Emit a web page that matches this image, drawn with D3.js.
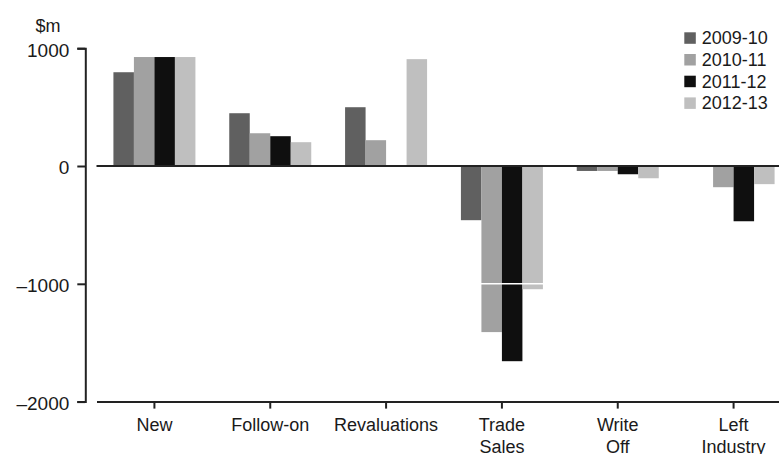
<!DOCTYPE html>
<html>
<head>
<meta charset="utf-8">
<script src="https://cdn.jsdelivr.net/npm/d3@7"></script>
<style>
  html, body { margin: 0; padding: 0; background: #fff; }
  svg { display: block; font-family: "Liberation Sans", Arial, sans-serif; }
</style>
</head>
<body>
<svg id="chart" width="779" height="454"></svg>
<script>
// ---- data ----
const categories = ["New", "Follow-on", "Revaluations", "Trade Sales", "Write Off", "Left Industry"];
const seriesNames = ["2009-10", "2010-11", "2011-12", "2012-13"];
const values2009_10 = [796, 448, 499, -460, -42, 0];
const values2010_11 = [925, 278, 219, -1410, -42, -180];
const values2011_12 = [925, 253, 0, -1657, -70, -469];
const values2012_13 = [925, 202, 907, -1046, -104, -154];
const yTickValues = [-2000, -1000, 0, 1000];
const unitLabel = "$m";

const seriesValues = [values2009_10, values2010_11, values2011_12, values2012_13];
const colors = ["#606060", "#a1a1a1", "#0f0f0f", "#bfbfbf"];

const svg = d3.select("#chart");

const y = d3.scaleLinear().domain([-2000, 1000]).range([401.6, 48.2]);
const x0 = d3.scaleBand().domain(categories).range([96.5, 791.5]).padding(0);
const groupW = 82;
const x1 = d3.scaleBand().domain(seriesNames)
  .range([(x0.step() - groupW) / 2, (x0.step() + groupW) / 2]).padding(0);

// bars
const rows = categories.map((c, i) => ({
  cat: c,
  vals: seriesNames.map((s, j) => ({ s, v: seriesValues[j][i], color: colors[j] }))
}));

const g = svg.append("g");
g.selectAll("g.cat").data(rows).join("g")
  .attr("class", "cat")
  .attr("transform", d => `translate(${x0(d.cat)},0)`)
  .selectAll("rect").data(d => d.vals).join("rect")
  .attr("x", d => x1(d.s))
  .attr("width", x1.bandwidth())
  .attr("y", d => y(Math.max(0, d.v)))
  .attr("height", d => Math.abs(y(d.v) - y(0)))
  .attr("fill", d => d.color);

// white gridlines over bars
svg.append("g").selectAll("line")
  .data(yTickValues.filter(v => v !== 0 && v !== -2000))
  .join("line")
  .attr("x1", x0.range()[0]).attr("x2", x0.range()[1])
  .attr("y1", d => y(d)).attr("y2", d => y(d))
  .attr("stroke", "#fff").attr("stroke-width", 1.6);

// zero line
svg.append("line")
  .attr("x1", x0.range()[0]).attr("x2", x0.range()[1])
  .attr("y1", y(0)).attr("y2", y(0))
  .attr("stroke", "#222").attr("stroke-width", 2);

// y axis
const fmt = v => (v < 0 ? "\u2013" + Math.abs(v) : String(v));
const yAxis = svg.append("g")
  .attr("transform", "translate(85.3,0)")
  .call(d3.axisLeft(y).tickValues(yTickValues).tickFormat(fmt).tickSize(8).tickSizeOuter(8).tickPadding(8));
yAxis.select(".domain").attr("stroke", "#222").attr("stroke-width", 2);
yAxis.selectAll(".tick line").attr("stroke", "#222").attr("stroke-width", 2);
yAxis.selectAll(".tick text").attr("font-size", 19).attr("fill", "#1a1a1a")
  .attr("font-family", "Liberation Sans, Arial, sans-serif").attr("dy", "0.42em");

svg.append("text").attr("x", 48).attr("y", 32).attr("text-anchor", "middle")
  .attr("font-size", 18).attr("fill", "#1a1a1a").text(unitLabel);

// x axis
const xAxis = svg.append("g")
  .attr("transform", `translate(0,${y(-2000)})`)
  .call(d3.axisBottom(x0).tickSize(7).tickSizeOuter(0).tickFormat(""));
xAxis.select(".domain").attr("stroke", "#222").attr("stroke-width", 2);
xAxis.selectAll(".tick line").attr("stroke", "#222").attr("stroke-width", 2);
xAxis.selectAll(".tick").each(function(d) {
  const t = d3.select(this).append("text")
    .attr("fill", "#1a1a1a").attr("font-size", 18)
    .attr("font-family", "Liberation Sans, Arial, sans-serif")
    .attr("text-anchor", "middle");
  d.split(" ").forEach((w, i) => {
    t.append("tspan").attr("x", 0).attr("y", 29 + i * 22).text(w);
  });
});

// legend
const legend = svg.append("g").attr("transform", "translate(684.3,32.3)");
const li = legend.selectAll("g").data(seriesNames).join("g")
  .attr("transform", (d, i) => `translate(0,${i * 21.7})`);
li.append("rect").attr("width", 11.5).attr("height", 11.5)
  .attr("fill", (d, i) => colors[i]);
li.append("text").attr("x", 17.5).attr("y", 12).attr("font-size", 18)
  .attr("fill", "#1a1a1a").text(d => d);
</script>
</body>
</html>
